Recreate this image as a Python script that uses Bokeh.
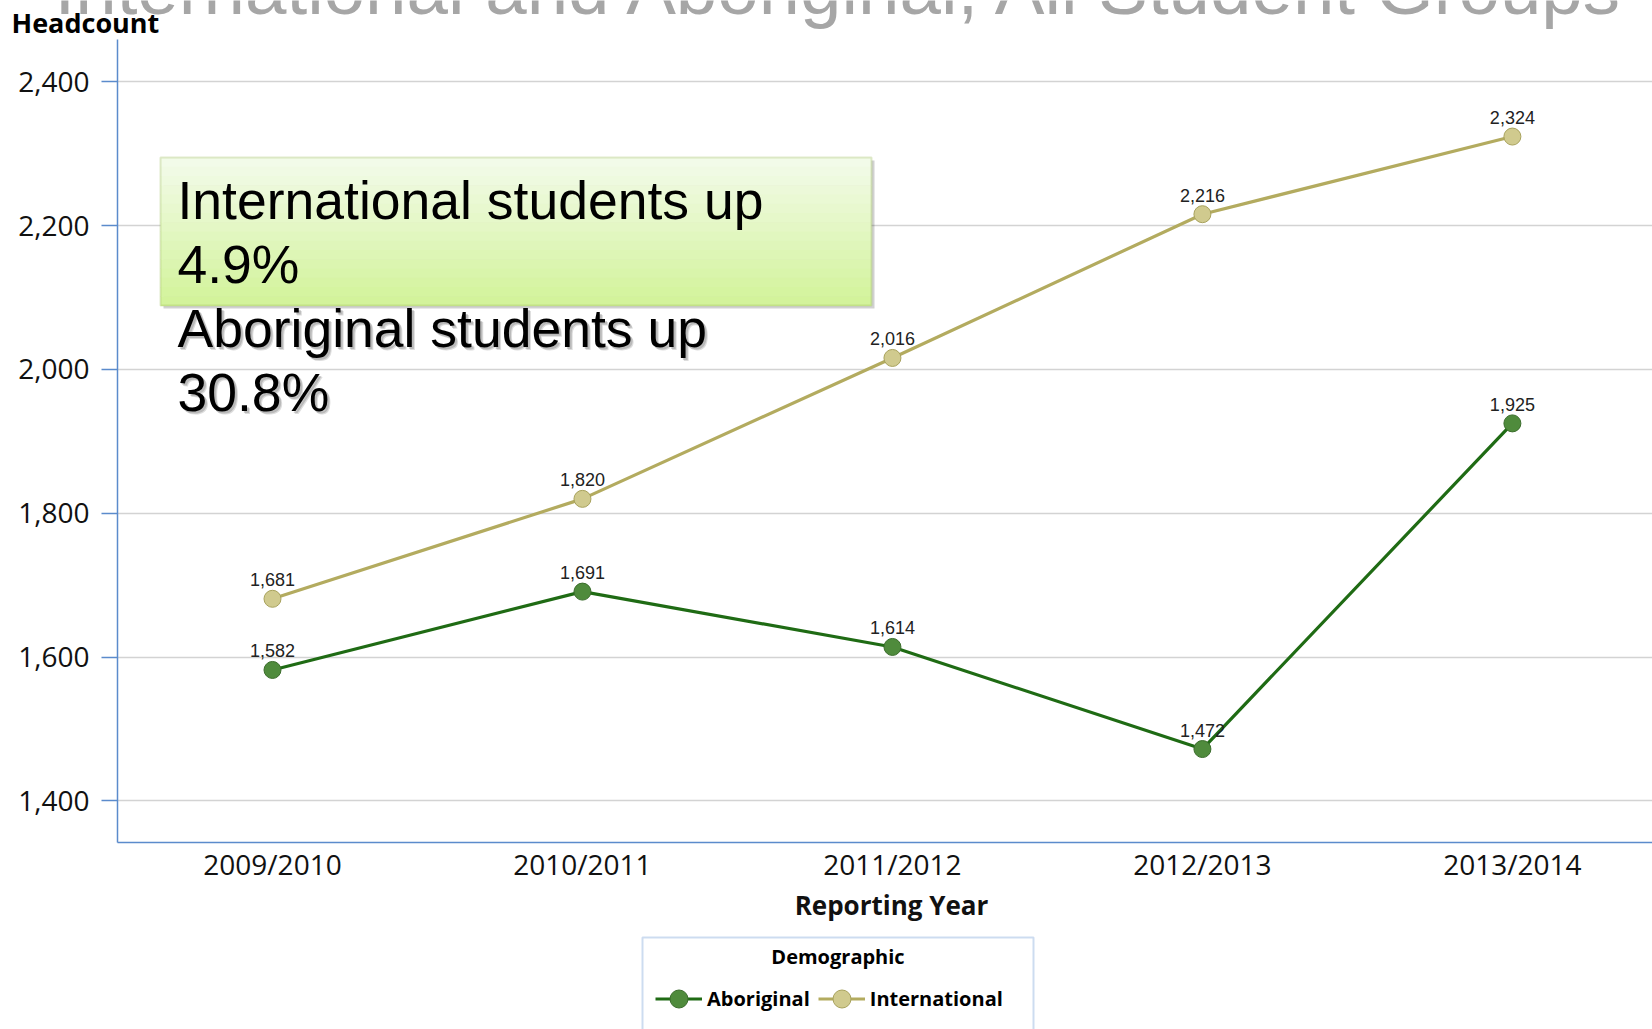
from bokeh.plotting import figure
from bokeh.layouts import column
from bokeh.models import (Range1d, FixedTicker, NumeralTickFormatter, Label,
                          BoxAnnotation, Legend, LegendItem, ColumnDataSource)
from bokeh.embed import file_html
from bokeh.resources import INLINE
from bokeh.core.properties import value

# ---------------- data ----------------
years = ["2009/2010", "2010/2011", "2011/2012", "2012/2013", "2013/2014"]
aboriginal = [1582, 1691, 1614, 1472, 1925]
international = [1681, 1820, 2016, 2216, 2324]
y_ticks = [1400, 1600, 1800, 2000, 2200, 2400]
series_names = ["Aboriginal", "International"]
chart_title = "International and Aboriginal, All Student Groups"
y_title = "Headcount"
x_title = "Reporting Year"
legend_title = "Demographic"
note_lines = ["International students up", "4.9%", "Aboriginal students up", "30.8%"]

x = list(range(len(years)))

# ---------------- styles ----------------
AX = "#5b8bcc"
GRID = "#d3d3d3"
AB_LINE, AB_FILL, AB_EDGE = "#1f6b14", "#4f8b3c", "#3b6d2c"
IN_LINE, IN_FILL, IN_EDGE = "#b3ab5f", "#d0ca8e", "#a8a25c"
UI_FONT = "Open Sans"
W = 1652
H_TOP, H_MAIN, H_BOT = 39, 847, 143


def bare_fig(h):
    f = figure(width=W, height=h, output_backend="svg", toolbar_location=None,
               title=None, x_axis_location=None, y_axis_location=None,
               x_range=Range1d(0, 1), y_range=Range1d(0, 1),
               min_border=0, min_border_left=0, min_border_right=0,
               min_border_top=0, min_border_bottom=0, frame_align=False)
    f.outline_line_color = None
    f.xgrid.visible = False
    f.ygrid.visible = False
    f.background_fill_color = "white"
    f.border_fill_color = "white"
    return f


def slabel(fig, **kw):
    fig.add_layout(Label(x_units="screen", y_units="screen", text_baseline="middle", **kw))


def sbox(fig, **kw):
    fig.add_layout(BoxAnnotation(left_units="screen", right_units="screen",
                                 top_units="screen", bottom_units="screen", **kw))


# ---------------- top strip: chart title + y title ----------------
top = bare_fig(H_TOP)
slabel(top, x=54, y=51, text=chart_title, text_font="Liberation Sans",
       text_font_size="74.5px", text_color="#a6a6a6")
slabel(top, x=11, y=17.5, text=y_title, text_font=UI_FONT, text_font_style="bold",
       text_font_size="27px", text_color="#000000")

# ---------------- main chart ----------------
p = figure(width=W, height=H_MAIN, output_backend="svg", toolbar_location=None,
           title=None,
           x_range=Range1d(-0.5, 4.452), y_range=Range1d(1342, 2459),
           min_border_left=117, min_border_right=0, min_border_top=0,
           min_border_bottom=44, frame_align=False)
p.outline_line_color = None
p.background_fill_color = "white"
p.border_fill_color = "white"
p.xgrid.visible = False
p.ygrid.ticker = FixedTicker(ticks=y_ticks)
p.ygrid.grid_line_color = GRID
p.ygrid.grid_line_width = 1.5

ya = p.yaxis[0]
ya.ticker = FixedTicker(ticks=y_ticks)
ya.formatter = NumeralTickFormatter(format="0,0")
ya.major_tick_out = 16
ya.major_tick_in = 0
ya.minor_tick_out = 0
ya.minor_tick_in = 0
ya.major_tick_line_color = AX
ya.major_tick_line_width = 1.5
ya.axis_line_color = AX
ya.axis_line_width = 1.5
ya.major_label_text_font = UI_FONT
ya.major_label_text_font_size = "28px"
ya.major_label_text_color = "#111111"
ya.major_label_standoff = 12

xa = p.xaxis[0]
xa.ticker = FixedTicker(ticks=x)
xa.major_label_overrides = {i: yl for i, yl in enumerate(years)}
xa.major_tick_out = 0
xa.major_tick_in = 0
xa.minor_tick_out = 0
xa.minor_tick_in = 0
xa.axis_line_color = AX
xa.axis_line_width = 1.5
xa.major_label_text_font = UI_FONT
xa.major_label_text_font_size = "28px"
xa.major_label_text_color = "#111111"
xa.major_label_standoff = 2

in_r = p.line(x, international, line_color=IN_LINE, line_width=3.2)
in_s = p.scatter(x, international, size=17, fill_color=IN_FILL, line_color=IN_EDGE, line_width=1)
ab_r = p.line(x, aboriginal, line_color=AB_LINE, line_width=3.2)
ab_s = p.scatter(x, aboriginal, size=17, fill_color=AB_FILL, line_color=AB_EDGE, line_width=1)

vals = aboriginal + international
lab_src = ColumnDataSource(dict(x=x + x, y=vals, t=[f"{v:,}" for v in vals]))
p.text("x", "y", text="t", source=lab_src, text_align="center",
       text_baseline="middle", y_offset=-19,
       text_font=value("Liberation Sans"), text_font_size="18px", text_color="#222222")

# note box (screen units from frame bottom-left), shadow + gradient
bl, br, bt, bb = 43, 754, 685, 537
sbox(p, left=bl + 3, right=br + 3, top=bt - 3, bottom=bb - 3,
     fill_color="#000000", fill_alpha=0.18, line_color=None)
n_strips = 16
c_top = (0xf2, 0xfb, 0xe9)
c_bot = (0xd3, 0xf3, 0x9b)
for i in range(n_strips):
    f = i / (n_strips - 1)
    col = "#%02x%02x%02x" % tuple(int(round(a + (b - a) * f)) for a, b in zip(c_top, c_bot))
    t = bt - (bt - bb) * i / n_strips
    b = bt - (bt - bb) * (i + 1) / n_strips
    sbox(p, left=bl, right=br, top=t, bottom=b - 0.5, fill_color=col, fill_alpha=1.0,
         line_color=None)
sbox(p, left=bl, right=br, top=bt, bottom=bb, fill_alpha=0, line_color="#9bbb59",
     line_width=2)

note_y = [642.5, 578.5, 514.5, 450.5]
for k, (txt, yy) in enumerate(zip(note_lines, note_y)):
    if k >= 2:
        for dx, dy, a in [(3, -3, 0.25), (2, -2, 0.35)]:
            slabel(p, x=60 + dx, y=yy + dy, text=txt, text_font="Liberation Sans",
                   text_font_size="53.5px", text_color="#777777", text_alpha=a)
    slabel(p, x=60, y=yy, text=txt, text_font="Liberation Sans",
           text_font_size="53.5px", text_color="#000000")

# ---------------- bottom strip: x title + legend ----------------
bot = bare_fig(H_BOT)
slabel(bot, x=891, y=124.5, text=x_title, text_font=UI_FONT, text_font_style="bold",
       text_font_size="26px", text_color="#111111", text_align="center")
sbox(bot, left=642, right=1033, top=92, bottom=-60, fill_color="white", fill_alpha=1.0,
     line_color=AX, line_width=2)
slabel(bot, x=837.5, y=72.8, text=legend_title, text_font=UI_FONT, text_font_style="bold",
       text_font_size="20px", text_color="#000000", text_align="center")
# legend proxies: same series, outside this strip's ranges so only the legend shows them
lg_ab_l = bot.line(x, aboriginal, line_color=AB_LINE, line_width=3)
lg_ab_s = bot.scatter(x, aboriginal, fill_color=AB_FILL, line_color=AB_EDGE, line_width=1)
lg_in_l = bot.line(x, international, line_color=IN_LINE, line_width=3)
lg_in_s = bot.scatter(x, international, fill_color=IN_FILL, line_color=IN_EDGE, line_width=1)
legend = Legend(items=[LegendItem(label=series_names[0], renderers=[lg_ab_l, lg_ab_s]),
                       LegendItem(label=series_names[1], renderers=[lg_in_l, lg_in_s])],
                orientation="horizontal", location=(655, 8.5),
                border_line_color=None, background_fill_alpha=0,
                padding=0, margin=0, spacing=8, glyph_width=47, glyph_height=45,
                label_height=45, label_standoff=5,
                label_text_font=UI_FONT, label_text_font_style="bold",
                label_text_font_size="20px", label_text_color="#000000")
bot.add_layout(legend, "center")

layout = column(top, p, bot, spacing=0)
open("out.html", "w").write(file_html(layout, INLINE))
